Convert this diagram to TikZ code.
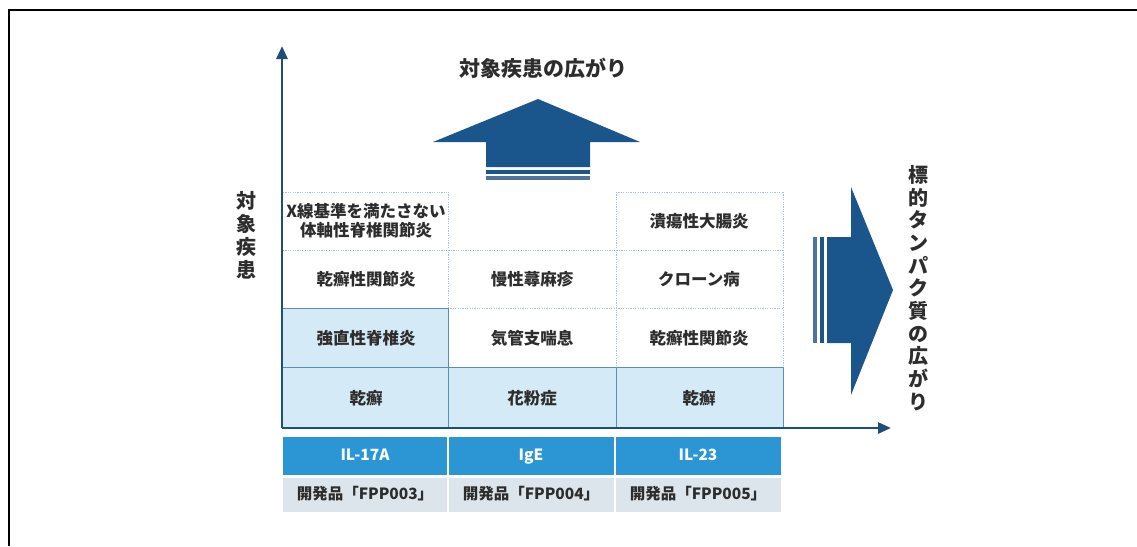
\documentclass[tikz,border=0pt]{standalone}
\usepackage{fontspec}
\setmainfont{Noto Sans CJK JP}
\usetikzlibrary{arrows.meta}
\definecolor{navy}{RGB}{30,78,122}
\definecolor{arrowblue}{RGB}{26,86,140}
\definecolor{stripetwo}{RGB}{78,116,158}
\definecolor{cellfill}{RGB}{212,234,246}
\definecolor{cellline}{RGB}{95,140,178}
\definecolor{dotline}{RGB}{165,195,218}
\definecolor{barblue}{RGB}{43,150,211}
\definecolor{bargray}{RGB}{220,228,236}
\definecolor{txt}{RGB}{45,45,45}
\tikzset{
  celltext/.style={font=\fontsize{16.5}{19}\selectfont\bfseries, text=txt, align=center, inner sep=0pt},
  bartext/.style={font=\fontsize{15.5}{18}\selectfont\bfseries, inner sep=0pt, text height=11.5pt, text depth=2.5pt},
  bigtext/.style={font=\fontsize{21}{23}\selectfont\bfseries, text=txt, align=center, inner sep=0pt},
  vtext/.style={font=\fontsize{20}{22.7}\selectfont\bfseries, text=txt, align=center, inner sep=0pt},
  dotgrid/.style={draw=dotline, line width=0.9pt, dash pattern=on 1.2pt off 1.2pt},
  solidgrid/.style={draw=cellline, line width=0.9pt},
  axisline/.style={draw=navy, line width=2.8pt, -{Triangle[length=13pt,width=11pt]}},
  bigarrow/.style={fill=arrowblue, draw=none}
}
\begin{document}
\begin{tikzpicture}[x=1pt,y=-1pt]
\useasboundingbox (0,0) rectangle (1137,546);
% outer frame
\draw[black, line width=1.8pt] (9,546) -- (9,10) -- (1137,10);

% filled cells
\fill[cellfill] (283,308) rectangle (448,428);
\fill[cellfill] (448,367) rectangle (783,428);
% dotted grid
\draw[dotgrid] (283,192) -- (448,192);
\draw[dotgrid] (616,192) -- (783,192);
\draw[dotgrid] (283,250) -- (783,250);
\draw[dotgrid] (448,308) -- (783,308);
\draw[dotgrid] (448,192) -- (448,308);
\draw[dotgrid] (616,192) -- (616,367);
\draw[dotgrid] (783,192) -- (783,367);
% solid borders of filled cells
\draw[solidgrid] (283,308) -- (448,308) -- (448,428);
\draw[solidgrid] (283,367) -- (783,367) -- (783,428);
\draw[solidgrid] (616,367) -- (616,428);

% cell texts
\node[celltext] (c11) at (366,221) {X線基準を満たさない\\体軸性脊椎関節炎};
\node[celltext] (c33) at (699,221) {潰瘍性大腸炎};
\node[celltext] (c21) at (366,279) {乾癬性関節炎};
\node[celltext] (c22) at (532,279) {慢性蕁麻疹};
\node[celltext] (c23) at (699,279) {クローン病};
\node[celltext] (c31) at (366,338) {強直性脊椎炎};
\node[celltext] (c32) at (532,338) {気管支喘息};
\node[celltext] (c3x) at (699,338) {乾癬性関節炎};
\node[celltext] (c41) at (366,398) {乾癬};
\node[celltext] (c42) at (532,398) {花粉症};
\node[celltext] (c43) at (699,398) {乾癬};

% axes
\coordinate (origin) at (282,428);
\coordinate (ytip) at (282,46);
\coordinate (xtip) at (891,428);
\draw[axisline] (origin) -- (ytip);
\draw[axisline] (origin) -- (xtip);

% target bars
\fill[barblue] (283,437) rectangle (447,475);
\fill[barblue] (449,437) rectangle (614,475);
\fill[barblue] (616,437) rectangle (781,475);
\fill[bargray] (283,478) rectangle (447,512);
\fill[bargray] (449,478) rectangle (614,512);
\fill[bargray] (616,478) rectangle (781,512);
\node[bartext, text=white] (t1) at (365,456) {IL-17A};
\node[bartext, text=white] (t2) at (531,456) {IgE};
\node[bartext, text=white] (t3) at (698,456) {IL-23};
\node[bartext, text=txt] (d1) at (365,495) {開発品「FPP003」};
\node[bartext, text=txt] (d2) at (531,495) {開発品「FPP004」};
\node[bartext, text=txt] (d3) at (698,495) {開発品「FPP005」};

% up arrow
\fill[bigarrow] (538,99) -- (640,142) -- (590,142) -- (590,167) -- (486,167) -- (486,142) -- (433,142) -- cycle;
\fill[arrowblue] (486,170) rectangle (590,174);
\fill[stripetwo] (486,176) rectangle (590,180);
\node[bigtext] (uplabel) at (543,68) {対象疾患の広がり};

% right arrow
\fill[bigarrow] (893,290) -- (851,395) -- (851,343) -- (827,343) -- (827,237) -- (851,237) -- (851,187) -- cycle;
\fill[arrowblue] (820,237) rectangle (824,343);
\fill[stripetwo] (813,237) rectangle (817,343);
\node[vtext] (rightlabel) at (918,288) {標\\的\\タ\\ン\\パ\\ク\\質\\の\\広\\が\\り};

% y label
\node[vtext, font=\fontsize{20}{23}\selectfont\bfseries] (ylabel) at (246,235) {対\\象\\疾\\患};
\end{tikzpicture}
\end{document}
